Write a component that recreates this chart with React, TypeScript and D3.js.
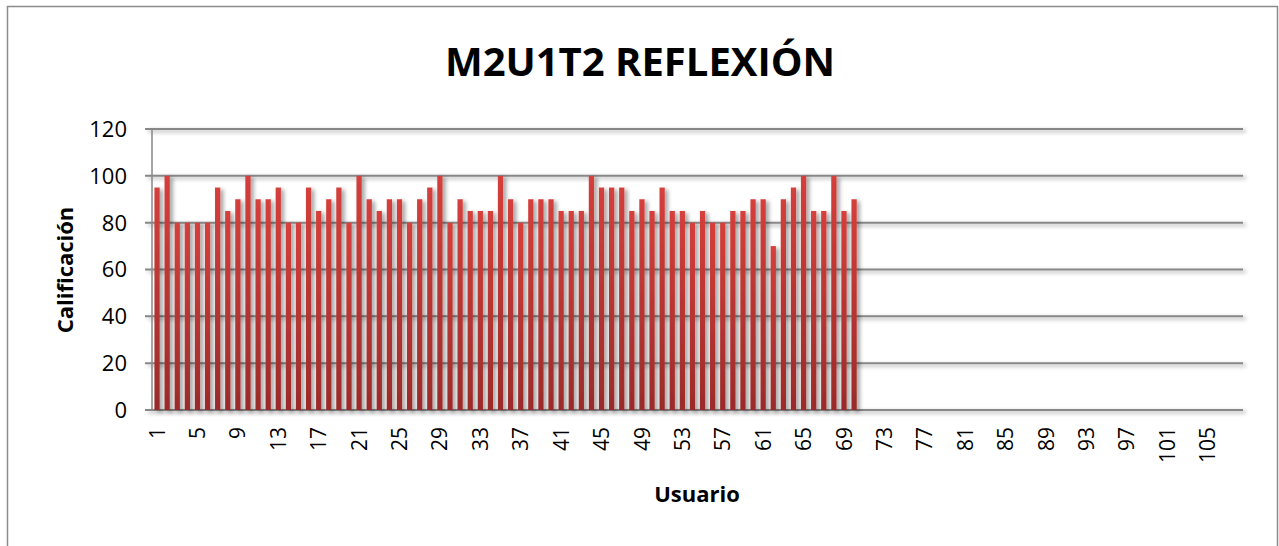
import * as d3 from "d3";

const users: number[] = d3.range(1, 109);
const scores: (number | null)[] = [
  95, 100, 80, 80, 80, 80, 95, 85, 90, 100,
  90, 90, 95, 80, 80, 95, 85, 90, 95, 80,
  100, 90, 85, 90, 90, 80, 90, 95, 100, 80,
  90, 85, 85, 85, 100, 90, 80, 90, 90, 90,
  85, 85, 85, 100, 95, 95, 95, 85, 90, 85,
  95, 85, 85, 80, 85, 80, 80, 85, 85, 90,
  90, 70, 90, 95, 100, 85, 85, 100, 85, 90,
];
const yTicks = [0, 20, 40, 60, 80, 100, 120];
const title = "M2U1T2 REFLEXIÓN";

const W = 1279;
const H = 546;
const m = { left: 152, right: 1243, top: 129, bottom: 410 };
const font = "'Open Sans', sans-serif";

export default function App() {
  const x = d3
    .scaleBand<number>()
    .domain(users)
    .range([m.left, m.right])
    .paddingInner(0.48)
    .paddingOuter(0.24);
  const y = d3.scaleLinear().domain([0, 120]).range([m.bottom, m.top]);

  return (
    <svg
      width={W}
      height={H}
      style={{ position: "absolute", left: 0, top: 0, background: "#fff" }}
    >
      <defs>
        <linearGradient id="barFill" x1="0" y1="0" x2="0" y2="1">
          <stop offset="0%" stopColor="#d53f3b" />
          <stop offset="100%" stopColor="#9a2b29" />
        </linearGradient>
        <filter id="shadow" x="-50%" y="-10%" width="250%" height="130%">
          <feGaussianBlur in="SourceAlpha" stdDeviation="2.2" />
          <feOffset dx="3" dy="2" result="b" />
          <feComponentTransfer>
            <feFuncA type="linear" slope="0.38" />
          </feComponentTransfer>
          <feMerge>
            <feMergeNode />
            <feMergeNode in="SourceGraphic" />
          </feMerge>
        </filter>
      </defs>

      <rect x={7.5} y={6.5} width={W - 9} height={H} fill="#fff" stroke="#8c8c8c" strokeWidth={1.5} />

      <text
        x={640}
        y={76}
        textAnchor="middle"
        fontFamily={font}
        fontWeight="bold"
        fontSize={40}
        fill="#000"
      >
        {title}
      </text>

      {/* gridlines */}
      <g filter="url(#shadow)">
        {yTicks.map((t) => (
          <line
            key={t}
            x1={m.left - 7}
            x2={m.right}
            y1={y(t)}
            y2={y(t)}
            stroke="#878787"
            strokeWidth={2}
          />
        ))}
      </g>
      <line x1={m.left} x2={m.left} y1={m.top} y2={m.bottom} stroke="#878787" strokeWidth={1.5} />

      {/* bars */}
      <g filter="url(#shadow)">
        {scores.map((v, i) =>
          v == null ? null : (
            <rect
              key={i}
              x={x(users[i])!}
              y={y(v)}
              width={x.bandwidth()}
              height={y(0) - y(v)}
              fill="url(#barFill)"
            />
          )
        )}
      </g>

      {/* y tick labels */}
      {yTicks.map((t) => (
        <text
          key={t}
          x={m.left - 25}
          y={y(t)}
          dy="0.36em"
          textAnchor="end"
          fontFamily={font}
          fontSize={22}
          fill="#000"
        >
          {t}
        </text>
      ))}

      {/* x tick labels */}
      {users
        .filter((u) => (u - 1) % 4 === 0)
        .map((u) => {
          const cx = x(u)! + x.bandwidth() / 2;
          return (
            <text
              key={u}
              transform={`translate(${cx},${m.bottom + 17}) rotate(-90)`}
              dy="0.36em"
              textAnchor="end"
              fontFamily={font}
              fontSize={21}
              fill="#000"
            >
              {u}
            </text>
          );
        })}

      <text
        transform={`translate(73,270) rotate(-90)`}
        textAnchor="middle"
        fontFamily={font}
        fontWeight="bold"
        fontSize={22}
        fill="#000"
      >
        Calificación
      </text>
      <text
        x={697}
        y={502}
        textAnchor="middle"
        fontFamily={font}
        fontWeight="bold"
        fontSize={22}
        fill="#000"
      >
        Usuario
      </text>
    </svg>
  );
}
